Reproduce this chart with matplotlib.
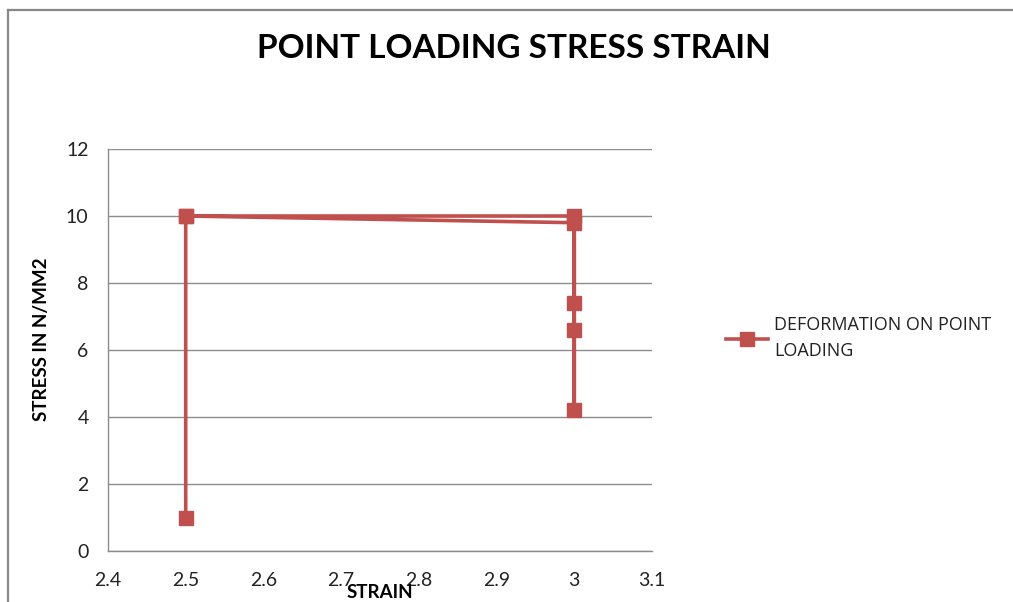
import matplotlib.pyplot as plt
from matplotlib.lines import Line2D

plt.rcParams['font.family'] = ['Lato', 'DejaVu Sans']

# measured points, in the order they were recorded
strain = [2.5, 2.5, 3, 3, 3, 3, 3, 2.5]
stress = [1, 10, 10, 7.4, 6.6, 4.2, 9.8, 10]

x_ticks = [2.4, 2.5, 2.6, 2.7, 2.8, 2.9, 3, 3.1]
x_labels = ['2.4', '2.5', '2.6', '2.7', '2.8', '2.9', '3', '3.1']
y_ticks = [0, 2, 4, 6, 8, 10, 12]

W, H = 1013, 602
fig = plt.figure(figsize=(W / 100, H / 100), dpi=100)
ax = fig.add_axes([108 / W, 1 - 551 / H, (652 - 108) / W, (551 - 149) / H])

red = '#C0504D'
ax.plot(strain, stress, color=red, lw=2.6, marker='s', ms=10.5,
        mfc=red, mec=red, label='DEFORMATION ON POINT\nLOADING', clip_on=False)

ax.set_xlim(2.4, 3.1)
ax.set_ylim(0, 12)
ax.set_xticks(x_ticks)
ax.set_xticklabels(x_labels)
ax.set_yticks(y_ticks)
ax.yaxis.grid(True, color='#8c8c8c', lw=1.0)
ax.set_axisbelow(True)
ax.tick_params(length=0, labelsize=14, colors='#222222', pad=14)
ax.tick_params(axis='x', pad=15)
for s in ['top', 'right']:
    ax.spines[s].set_visible(False)
for s in ['left', 'bottom']:
    ax.spines[s].set_color('#8c8c8c')
    ax.spines[s].set_linewidth(1.0)

# axis titles sit where the spreadsheet put them: STRAIN runs into the tick row
ax.set_xlabel('STRAIN', fontsize=13.5, fontweight='bold', va='center')
ax.xaxis.set_label_coords(0.5, -(593 - 551) / (551 - 149))
ax.set_ylabel('STRESS IN N/MM2', fontsize=13.5, fontweight='bold', va='center')
ax.yaxis.set_label_coords(-(108 - 41) / (652 - 108), (551 - 339) / (551 - 149))

fig.text(514 / W, 1 - 48 / H, 'POINT LOADING STRESS STRAIN', ha='center', va='center',
         fontsize=24, fontweight='bold', color='black')

leg = ax.legend(loc='center left', frameon=False, handlelength=2.3, handletextpad=0.35,
                labelspacing=0.2, prop={'family': 'Open Sans', 'size': 13})
leg.set_bbox_to_anchor((710 / W, 1 - 338 / H), transform=fig.transFigure)
for t in leg.get_texts():
    t.set_linespacing(1.5)
    t.set_color('#222222')

# outer chart frame (only the top and left edges fall inside the image)
fig.add_artist(Line2D([8 / W, 8 / W], [0, 1 - 10 / H], color='#888888', lw=1.6,
                      transform=fig.transFigure))
fig.add_artist(Line2D([8 / W, 1], [1 - 10 / H, 1 - 10 / H], color='#888888', lw=1.6,
                      transform=fig.transFigure))

fig.savefig('out.png', dpi=100)
